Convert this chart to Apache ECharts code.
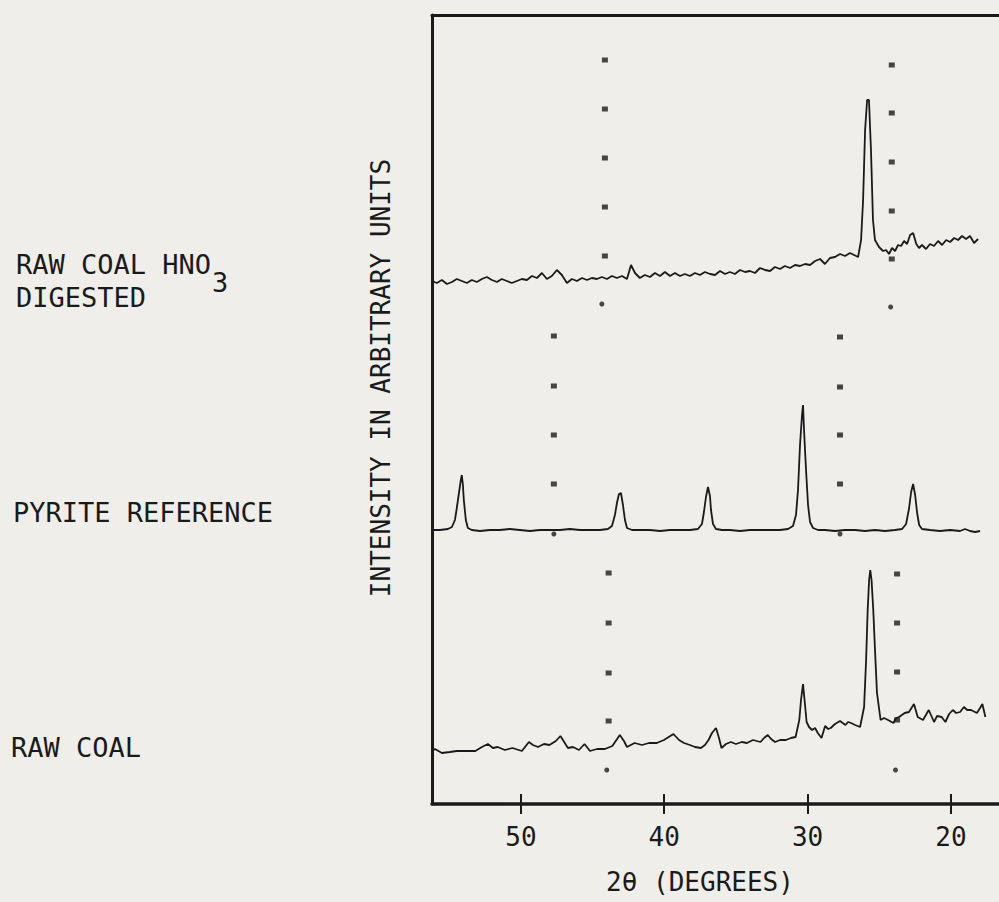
<!DOCTYPE html>
<html>
<head>
<meta charset="utf-8">
<script src="https://cdn.jsdelivr.net/npm/echarts@6/dist/echarts.min.js"></script>
<style>
html,body{margin:0;padding:0;background:#efeeea;}
#chart{width:999px;height:902px;}
</style>
</head>
<body>
<div id="chart"></div>
<script>
// ---- data (2θ in degrees, intensity in arbitrary units, traces offset vertically as in the figure) ----
const twoThetaDigested = [56.21,55.86,55.51,55.16,54.81,54.47,54.12,53.77,53.42,53.07,52.72,52.37,52.02,51.67,51.33,50.98,50.63,50.28,49.93,49.58,49.23,48.88,48.53,48.19,47.84,47.49,47.14,46.79,46.44,46.09,45.74,45.39,45.05,44.70,44.35,44.00,43.65,43.30,42.95,42.60,42.32,42.04,41.70,41.35,41.00,40.65,40.30,39.95,39.60,39.25,38.90,38.56,38.21,37.86,37.51,37.16,36.81,36.46,36.11,35.76,35.42,35.07,34.72,34.37,34.02,33.67,33.32,32.97,32.62,32.28,31.93,31.58,31.23,30.88,30.53,30.18,29.83,29.48,29.13,28.79,28.44,28.09,27.74,27.39,27.04,26.76,26.48,26.27,26.13,25.99,25.85,25.72,25.58,25.44,25.30,25.02,24.74,24.53,24.32,24.11,23.90,23.69,23.48,23.27,23.06,22.85,22.64,22.42,22.23,22.02,21.74,21.46,21.18,20.90,20.62,20.34,20.06,19.78,19.50,19.23,18.95,18.67,18.39,18.11];
const intensityDigested = [523,521,524,520,522,525,523,521,524,522,525,527,524,522,525,523,521,523,525,524,528,526,531,525,528,534,529,521,525,523,526,524,526,525,527,525,528,526,528,525,539,531,526,529,527,531,528,532,528,531,528,530,528,531,529,532,530,529,533,530,532,530,534,532,533,531,536,534,533,537,535,538,536,539,538,540,539,543,545,540,546,547,550,548,551,549,547,564,604,674,704,704,654,584,564,557,553,554,550,556,553,559,558,563,560,569,571,560,556,559,555,560,558,563,559,564,562,566,564,568,565,568,561,565];

const twoThetaPyrite = [56.21,55.65,55.09,54.81,54.60,54.47,54.33,54.19,54.12,54.05,53.98,53.84,53.70,53.42,52.86,52.16,51.47,50.77,50.07,49.37,48.67,47.98,47.28,46.58,45.88,45.19,44.49,43.93,43.65,43.44,43.30,43.16,43.02,42.88,42.74,42.60,42.25,41.70,41.00,40.30,39.60,38.90,38.21,37.65,37.37,37.23,37.09,36.95,36.81,36.74,36.60,36.39,35.97,35.42,34.72,34.02,33.32,32.62,31.93,31.37,31.02,30.81,30.67,30.53,30.39,30.32,30.25,30.11,29.97,29.83,29.62,29.27,28.79,28.09,27.39,26.69,26.00,25.30,24.60,23.90,23.41,23.13,22.92,22.78,22.64,22.50,22.36,22.22,22.02,21.46,20.76,20.06,19.37,19.02,18.67,18.32,17.97];
const intensityPyrite = [274,274,275,277,284,296,310,324,329,320,304,284,276,274,273,274,274,275,274,273,274,274,274,275,274,274,274,275,278,289,301,310,311,299,284,276,274,274,274,273,274,274,274,275,280,292,307,317,308,294,280,275,274,274,273,274,274,274,274,275,278,289,314,359,389,399,374,334,299,282,276,274,274,273,274,274,273,274,273,274,275,280,296,312,320,309,291,279,275,274,273,274,273,275,273,272,273];

const twoThetaRaw = [56.21,55.99,55.51,54.95,54.47,53.84,53.17,52.72,52.30,51.95,51.61,51.12,50.59,49.93,49.44,49.16,48.81,48.39,48.01,47.56,47.24,46.72,46.37,45.95,45.56,45.18,44.69,44.14,43.62,43.10,42.81,42.60,42.07,41.55,41.07,40.52,40.02,39.36,38.97,38.62,38.21,37.86,37.44,37.16,36.91,36.67,36.39,36.18,36.01,35.69,35.36,35.00,34.59,34.23,33.81,33.29,33.04,32.78,32.55,32.27,31.92,31.51,31.16,30.84,30.58,30.46,30.32,30.18,30.07,29.90,29.69,29.48,29.29,29.03,28.78,28.57,28.39,28.09,27.74,27.36,27.18,26.97,26.69,26.34,26.06,25.92,25.81,25.71,25.63,25.54,25.42,25.30,25.16,24.91,24.67,24.39,24.01,23.83,23.62,23.23,22.93,22.58,22.32,21.95,21.55,21.18,20.97,20.65,20.39,20.13,19.87,19.64,19.36,19.10,18.87,18.60,18.19,17.97,17.81,17.60];
const intensityRaw = [53,55,51,52,53,53,53,57,60,56,57,54,56,53,62,59,57,60,59,63,68,56,57,54,60,53,55,55,58,69,63,57,61,59,61,61,64,70,64,61,59,57,56,59,64,71,76,66,56,60,62,60,62,61,64,62,66,69,65,62,64,64,66,67,84,104,120,99,82,77,74,76,71,66,78,75,76,80,83,79,82,81,79,77,97,144,194,224,234,224,194,154,111,84,86,84,81,86,87,91,92,100,87,84,94,82,88,87,82,90,94,91,92,97,94,94,91,96,100,87];

// dotted marker columns drawn on the chart by the recorder
const squareMarkTheta = [44.14,44.14,44.14,44.14,44.14, 24.13,24.13,24.13,24.13,24.13, 47.70,47.70,47.70,47.70, 27.74,27.74,27.74,27.74, 43.88,43.88,43.88,43.88, 23.76,23.76,23.76,23.76];
const squareMarkIntensity = [744,695,646,597,548, 739,691,642,593,545, 468,418,369,320, 467,417,369,320, 231,181,131,83, 230,181,132,84];
const roundMarkTheta = [44.35,24.21,44.01,23.87,47.70,27.74];
const roundMarkIntensity = [500,497,34,34,270,270];

const tickValues = [20,30,40,50];
const xAxisTitle = '2θ (DEGREES)';
const yAxisTitle = 'INTENSITY IN ARBITRARY UNITS';
const sampleLabels = ['RAW COAL HNO', '3', 'DIGESTED', 'PYRITE REFERENCE', 'RAW COAL'];

const zip = (a, b) => a.map((v, i) => [v, b[i]]);

const FONT = '"DejaVu Sans Mono", "Liberation Mono", monospace';
const INK = '#1a1a1a';
const X_MIN = 16.65, X_MAX = 56.2;

const chart = echarts.init(document.getElementById('chart'), null, {renderer: 'svg'});
const lineStyle = {color: INK, width: 1.8};

chart.setOption({
  backgroundColor: '#efeeea',
  animation: false,
  grid: {left: 432, right: 0, top: 15, bottom: 98},
  xAxis: [
    {type: 'value', inverse: true, min: X_MIN, max: X_MAX, position: 'bottom',
     axisLine: {show: true, lineStyle: {color: INK, width: 3.5}},
     axisTick: {show: true, length: 10, lineStyle: {color: INK, width: 2}, customValues: tickValues},
     axisLabel: {show: true, customValues: tickValues, fontFamily: FONT, fontSize: 26, color: INK, margin: 20},
     splitLine: {show: false}},
    {type: 'value', inverse: true, min: X_MIN, max: X_MAX, position: 'top',
     axisLine: {show: true, lineStyle: {color: INK, width: 3}},
     axisTick: {show: false}, axisLabel: {show: false}, splitLine: {show: false}},
    {type: 'value', inverse: true, min: X_MIN, max: X_MAX, position: 'bottom',
     axisLine: {show: false},
     axisTick: {show: true, inside: true, length: 10, lineStyle: {color: INK, width: 2}, customValues: tickValues},
     axisLabel: {show: false}, splitLine: {show: false}}
  ],
  yAxis: {type: 'value', min: 0, max: 789,
    axisLine: {show: true, lineStyle: {color: INK, width: 3}},
    axisTick: {show: false}, axisLabel: {show: false}, splitLine: {show: false}},
  series: [
    {type: 'line', data: zip(twoThetaDigested, intensityDigested), showSymbol: false, lineStyle, silent: true},
    {type: 'line', data: zip(twoThetaPyrite, intensityPyrite), showSymbol: false, lineStyle, silent: true},
    {type: 'line', data: zip(twoThetaRaw, intensityRaw), showSymbol: false, lineStyle, silent: true},
    {type: 'scatter', data: zip(squareMarkTheta, squareMarkIntensity), symbol: 'rect', symbolSize: [6, 5], itemStyle: {color: INK}, silent: true},
    {type: 'scatter', data: zip(roundMarkTheta, roundMarkIntensity), symbol: 'circle', symbolSize: 5, itemStyle: {color: INK}, silent: true}
  ],
  graphic: [
    {type: 'text', x: 16, y: 264, style: {text: sampleLabels[0], font: '27px ' + FONT, fill: INK, align: 'left', verticalAlign: 'middle'}},
    {type: 'text', x: 212, y: 282, style: {text: sampleLabels[1], font: '27px ' + FONT, fill: INK, align: 'left', verticalAlign: 'middle'}},
    {type: 'text', x: 16, y: 297, style: {text: sampleLabels[2], font: '27px ' + FONT, fill: INK, align: 'left', verticalAlign: 'middle'}},
    {type: 'text', x: 13, y: 512, style: {text: sampleLabels[3], font: '27px ' + FONT, fill: INK, align: 'left', verticalAlign: 'middle'}},
    {type: 'text', x: 11, y: 747, style: {text: sampleLabels[4], font: '27px ' + FONT, fill: INK, align: 'left', verticalAlign: 'middle'}},
    {type: 'text', x: 381, y: 378, rotation: Math.PI / 2, style: {text: yAxisTitle, font: '26px ' + FONT, fill: INK, align: 'center', verticalAlign: 'middle'}},
    {type: 'text', x: 700, y: 882, style: {text: xAxisTitle, font: '26px ' + FONT, fill: INK, align: 'center', verticalAlign: 'middle'}}
  ]
});
</script>
</body>
</html>
